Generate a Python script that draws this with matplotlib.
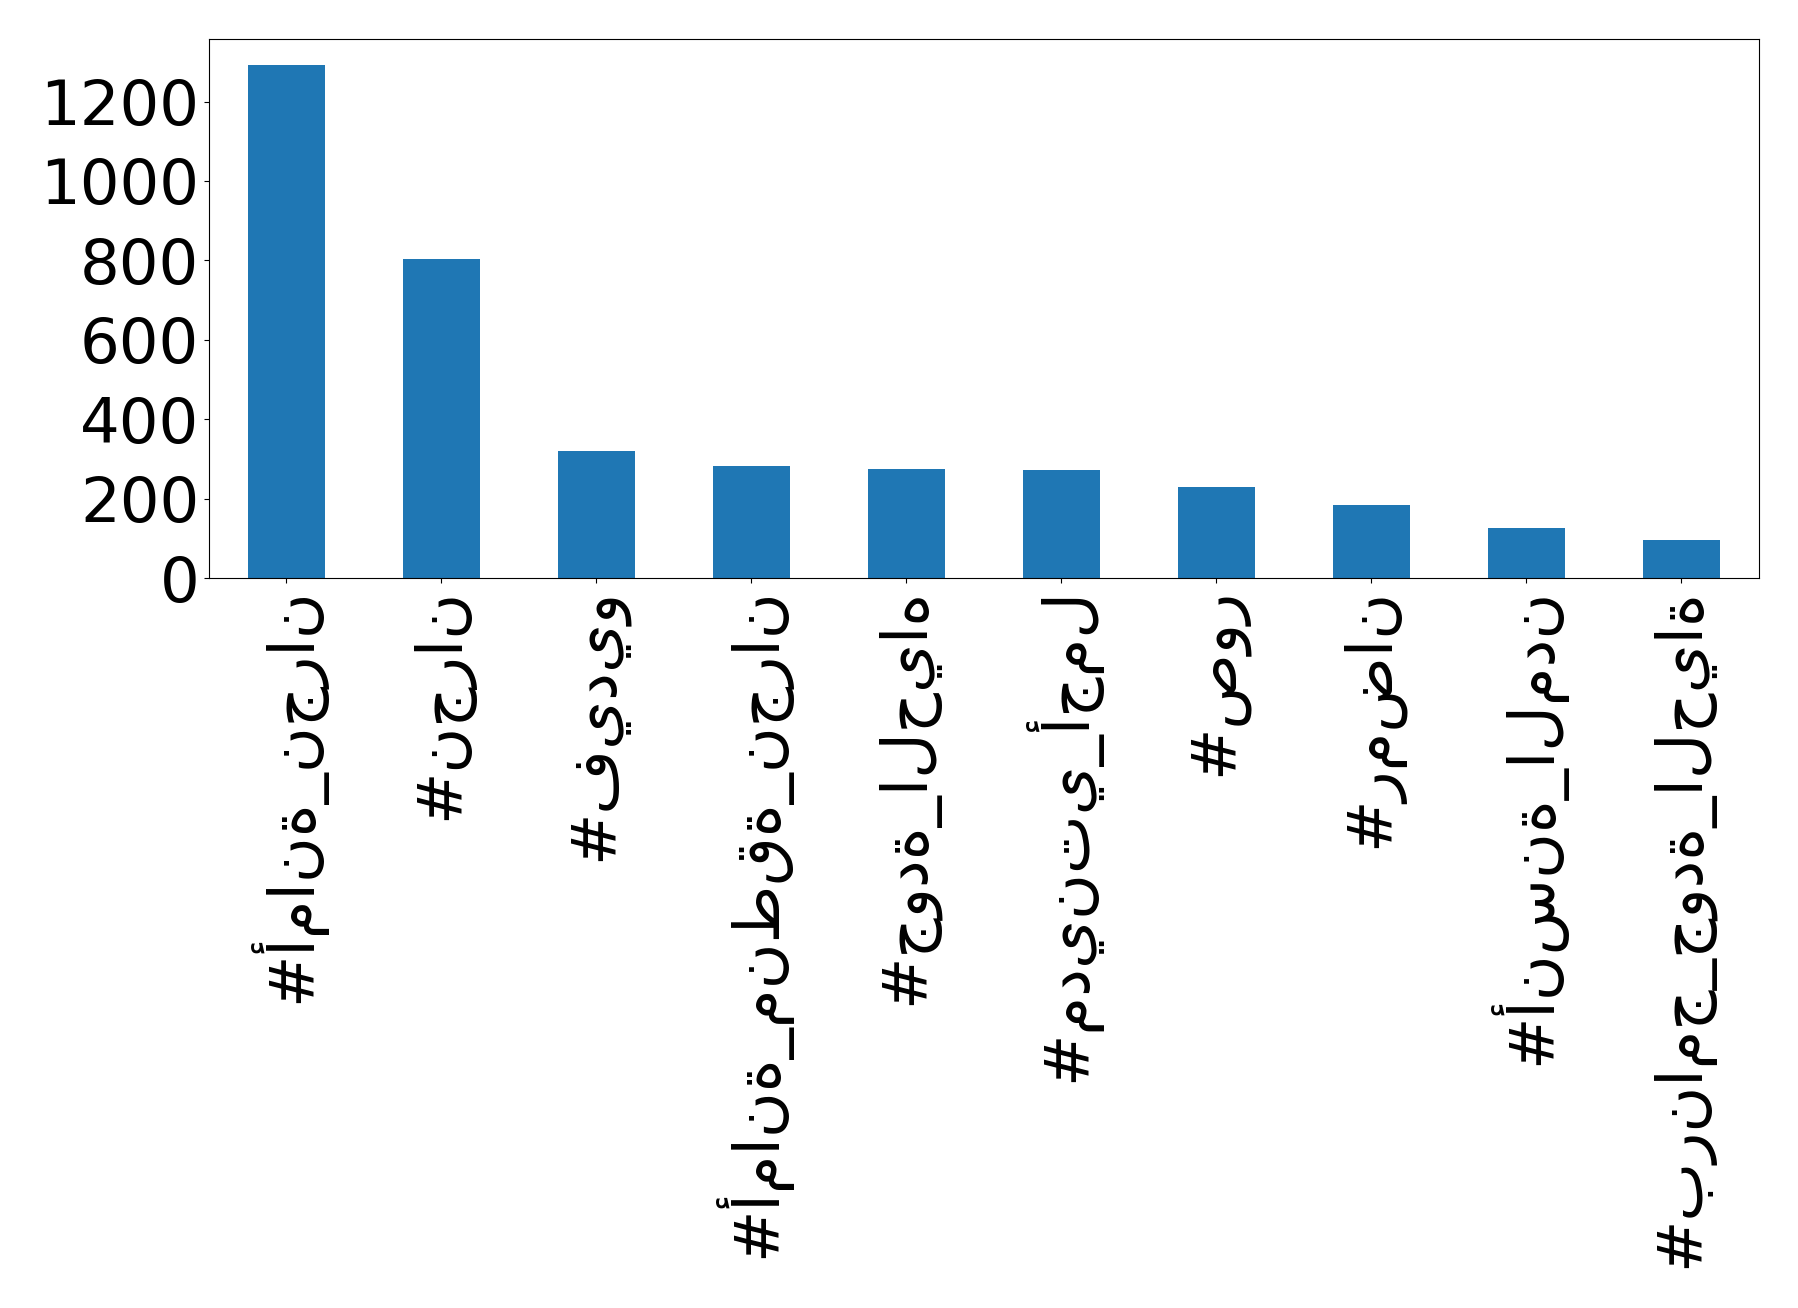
import matplotlib
matplotlib.use("Agg")
import matplotlib.pyplot as plt
import pandas as pd

#Data hashtag dan jumlahnya
hashtags = ["#أمانة_نجران", "#نجران", "#فيديو", "#أمانة_منطقة_نجران", "#جودة_الحياه",
            "#مدينتي_أجمل", "#صور", "#رمضان", "#أنسنة_المدن", "#برنامج_جودة_الحياة"]
counts = [1293, 803, 320, 283, 275, 273, 230, 183, 125, 95]

data = pd.Series(counts, index=hashtags)

fig = plt.figure(figsize=(17.98, 13.08), dpi=100) #Ukuran Bingkai
ax = fig.add_axes([0.1162, 0.5581, 0.8621, 0.4121])
data.plot(kind='bar', ax=ax, fontsize=45) #Plot bar pandas
ax.tick_params(axis='x', labelrotation=90)

plt.savefig('out.png', dpi=100)
